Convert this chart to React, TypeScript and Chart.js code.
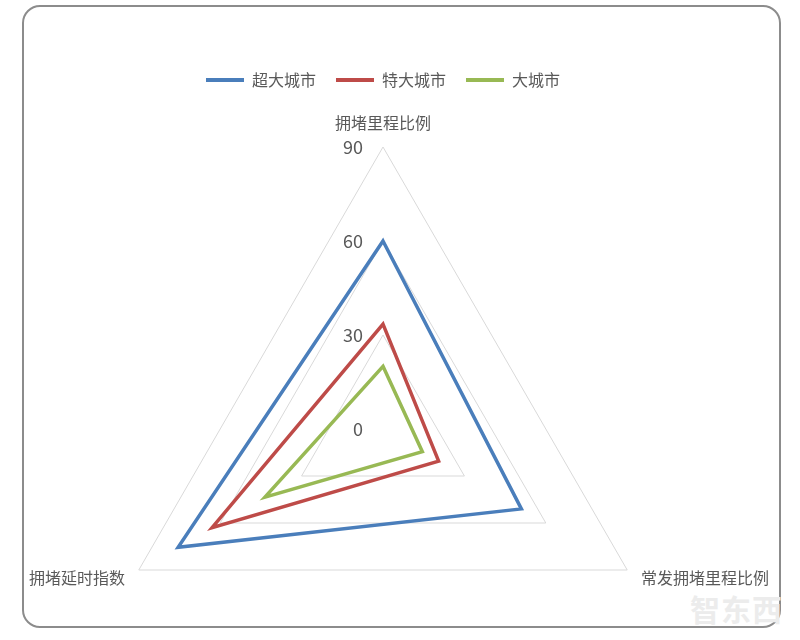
import React, { useEffect, useRef } from "react";
import { Chart, registerables } from "chart.js";

Chart.register(...registerables);

const categories = ["拥堵里程比例", "常发拥堵里程比例", "拥堵延时指数"];
const seriesNames = ["超大城市", "特大城市", "大城市"];
const superCity = [60, 51, 75.5];
const megaCity = [33.5, 20.5, 63];
const bigCity = [20, 14.5, 43.5];
const tickValues = [0, 30, 60, 90];
const colors = ["#4A7EBB", "#BE4B48", "#98B954"];

const FONT = '"Noto Sans CJK SC", "Noto Sans", sans-serif';
const TEXT = "#595959";

const tickLabelPlugin = {
  id: "tickLabelsCustom",
  afterDraw(chart: any) {
    const s = chart.scales.r;
    const ctx = chart.ctx;
    ctx.save();
    ctx.font = `18px ${FONT}`;
    ctx.fillStyle = TEXT;
    ctx.textAlign = "right";
    ctx.textBaseline = "middle";
    tickValues.forEach((v) => {
      const d = s.getDistanceFromCenterForValue(v);
      ctx.fillText(String(v), s.xCenter - 20, s.yCenter - d);
    });
    ctx.restore();
  },
};

const pointLabelPlugin = {
  id: "pointLabelsCustom",
  afterDraw(chart: any) {
    const s = chart.scales.r;
    const ctx = chart.ctx;
    ctx.save();
    ctx.font = `16px ${FONT}`;
    ctx.fillStyle = TEXT;
    (chart.data.labels as string[]).forEach((lab, i) => {
      const p = s.getPointPosition(i, s.drawingArea + 16);
      if (Math.abs(p.x - s.xCenter) < 1) {
        ctx.textAlign = "center";
        ctx.textBaseline = "bottom";
      } else if (p.x > s.xCenter) {
        ctx.textAlign = "left";
        ctx.textBaseline = "middle";
      } else {
        ctx.textAlign = "right";
        ctx.textBaseline = "middle";
      }
      ctx.fillText(lab, p.x, p.y);
    });
    ctx.restore();
  },
};

export default function App() {
  const ref = useRef<HTMLCanvasElement | null>(null);

  useEffect(() => {
    if (!ref.current) return;
    const seriesData = [superCity, megaCity, bigCity];
    const chart = new Chart(ref.current, {
      type: "radar",
      data: {
        labels: categories,
        datasets: seriesNames.map((name, i) => ({
          label: name,
          data: seriesData[i],
          borderColor: colors[i],
          backgroundColor: "transparent",
          borderWidth: 3.5,
          borderJoinStyle: "miter",
          fill: false,
          pointRadius: 0,
          pointHoverRadius: 0,
          pointBorderWidth: 4,
          pointBorderColor: colors[i],
          pointBackgroundColor: colors[i],
        })),
      },
      options: {
        animation: false,
        responsive: true,
        maintainAspectRatio: false,
        layout: { padding: { top: 52, left: 101, right: 135, bottom: 0 } },
        plugins: {
          legend: {
            position: "top",
            labels: {
              usePointStyle: true,
              pointStyle: "line",
              pointStyleWidth: 38,
              padding: 20,
              color: TEXT,
              font: { size: 16, family: FONT },
            },
          },
          tooltip: { enabled: false },
        },
        scales: {
          r: {
            min: 0,
            max: 90,
            ticks: { stepSize: 30, display: false },
            grid: { color: "#d9d9d9", lineWidth: 1 },
            angleLines: { display: false },
            pointLabels: { display: false },
          },
        },
      },
      plugins: [tickLabelPlugin, pointLabelPlugin],
    } as any);
    return () => chart.destroy();
  }, []);

  return (
    <div
      style={{
        position: "fixed",
        left: 0,
        top: 0,
        width: 800,
        height: 640,
        overflow: "hidden",
        background: "#fff",
      }}
    >
      <div
        style={{
          position: "absolute",
          left: 22,
          top: 5,
          width: 759,
          height: 623,
          boxSizing: "border-box",
          border: "2px solid #8c8c8c",
          borderRadius: 18,
        }}
      />
      <div
        style={{
          position: "absolute",
          left: 690,
          top: 586,
          fontFamily: FONT,
          fontSize: 30,
          fontWeight: 700,
          color: "#ececec",
          letterSpacing: 1,
        }}
      >
        智东西
      </div>
      <div style={{ position: "absolute", left: 0, top: 0, width: 800, height: 760 }}>
        <canvas ref={ref} />
      </div>
    </div>
  );
}
